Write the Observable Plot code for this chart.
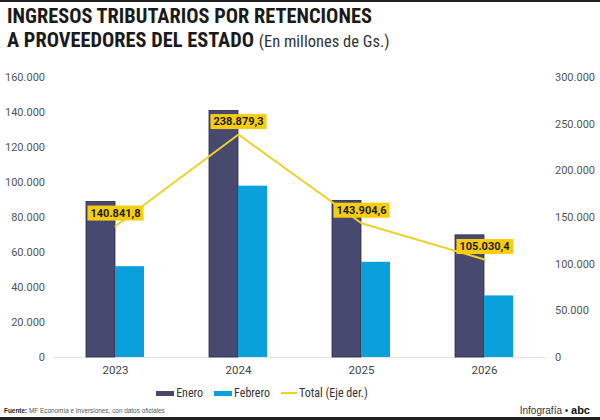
<!DOCTYPE html>
<html>
<head>
<meta charset="utf-8">
<script src="https://cdn.jsdelivr.net/npm/d3@7"></script>
<script src="https://cdn.jsdelivr.net/npm/@observablehq/plot@0.6"></script>
<style>
  html, body { margin: 0; padding: 0; background: #fff; }
  body { width: 600px; height: 420px; position: relative; overflow: hidden; font-family: Roboto, "Noto Sans", sans-serif; }
  #topbar { position: absolute; left: 0; top: 0; width: 600px; height: 2px; background: #222; }
  #botbar { position: absolute; left: 0; top: 417px; width: 600px; height: 3px; background: #222; }
  .tl { position: absolute; left: 7px; white-space: nowrap; font-family: "Liberation Sans Narrow", "Roboto Condensed", "DejaVu Sans Condensed", sans-serif; font-weight: bold; font-size: 21px; line-height: 22px; height: 22px; color: #1a1a1a; transform: scaleX(0.97); transform-origin: left top; }
  #t1 { top: 5px; }
  #t2 { top: 29px; }
  .tl .sub { font-weight: normal; font-size: 17px; color: #333; }
  #chart { position: absolute; left: 0; top: 60px; }
  #legend { position: absolute; left: 0; top: 386px; width: 524px; display: flex; justify-content: center; align-items: center; gap: 11px; font-family: "Liberation Sans Narrow", "Roboto Condensed", sans-serif; font-size: 12px; color: #333; }
  #legend .it { display: flex; align-items: center; gap: 2px; }
  #legend .sw { width: 18px; height: 5px; display: inline-block; }
  #legend .ln { width: 16px; height: 2px; display: inline-block; background: #eed22a; }
  #footer { position: absolute; left: 4px; top: 406px; white-space: nowrap; font-family: "Liberation Sans Narrow", sans-serif; font-size: 8px; color: #555; transform: scaleX(0.8); transform-origin: left top; }
  #credit { position: absolute; right: 10px; top: 404px; font-family: "Liberation Sans Narrow", sans-serif; font-size: 10px; color: #333; }
</style>
</head>
<body>
<div id="topbar"></div>
<div class="tl" id="t1">INGRESOS TRIBUTARIOS POR RETENCIONES</div>
<div class="tl" id="t2">A PROVEEDORES DEL ESTADO <span class="sub">(En millones de Gs.)</span></div>
<div id="chart"></div>
<div id="legend">
  <span class="it"><span class="sw" style="background:#474a6e"></span>Enero</span>
  <span class="it"><span class="sw" style="background:#0aa0dc"></span>Febrero</span>
  <span class="it"><span class="ln"></span>Total (Eje der.)</span>
</div>
<div id="footer"><b style="color:#222">Fuente:</b> MF Economía e Inversiones, con datos oficiales</div>
<div id="credit">Infografía • <b style="font-size:11px;color:#111">abc</b></div>
<div id="botbar"></div>
<script>
const years = ["2023", "2024", "2025", "2026"];
const enero = [88900, 140900, 89500, 69800];
const febrero = [51900, 97900, 54400, 35200];
const total = [140841.8, 238879.3, 143904.6, 105030.4];
const leftTicks = [0, 20000, 40000, 60000, 80000, 100000, 120000, 140000, 160000];
const rightTicks = [0, 50000, 100000, 150000, 200000, 250000, 300000];

const loc = d3.formatLocale({decimal: ",", thousands: ".", grouping: [3], currency: ["", ""]});
const fmt0 = loc.format(",d");
const fmt1 = loc.format(",.1f");
const k = 160000 / 300000;

const data = years.map((y, i) => ({year: y, enero: enero[i], febrero: febrero[i], total: total[i]}));

const svg = Plot.plot({
  width: 600,
  height: 320,
  marginLeft: 53.5,
  marginRight: 54.5,
  marginTop: 17,
  marginBottom: 23,
  style: {fontFamily: "Roboto, sans-serif", background: "transparent"},
  x: {domain: years, paddingInner: 0.528, paddingOuter: 0.264},
  y: {domain: [0, 160000]},
  marks: [
    Plot.ruleY([0], {stroke: "#e4e4e4", strokeWidth: 1}),
    Plot.barY(data, {x: "year", y: "enero", fill: "#474a6e", stroke: "#2a2c44", strokeWidth: 0.8, insetRight: 29}),
    Plot.barY(data, {x: "year", y: "febrero", fill: "#0aa0dc", insetLeft: 29}),
    Plot.line(data, {x: "year", y: d => d.total * k, stroke: "#eed22a", strokeWidth: 2}),
    Plot.text(data, {x: "year", y: d => d.total * k, dy: -13, text: d => fmt1(d.total), fontSize: 11, fontWeight: "bold", fill: "#1e1e1e", className: "lbl"}),
    Plot.axisY(leftTicks, {anchor: "left", tickSize: 0, tickPadding: 9, tickFormat: fmt0, fontSize: 11, fill: "#555", label: null}),
    Plot.axisY(rightTicks, {anchor: "right", y: d => d * k, text: d => fmt0(d), tickSize: 0, tickPadding: 9, fontSize: 11, fill: "#555", label: null}),
    Plot.axisX({tickSize: 0, tickPadding: 8, fontSize: 11.5, fill: "#444", label: null})
  ]
});
document.getElementById("chart").append(svg);

const ns = "http://www.w3.org/2000/svg";
svg.querySelectorAll(".lbl text").forEach(t => {
  const b = t.getBBox();
  const r = document.createElementNS(ns, "rect");
  r.setAttribute("x", b.x - 3);
  r.setAttribute("y", b.y - 1);
  r.setAttribute("width", b.width + 6);
  r.setAttribute("height", b.height + 2);
  r.setAttribute("fill", "#f6cd0f");
  const tr = t.getAttribute("transform");
  if (tr) r.setAttribute("transform", tr);
  t.parentNode.insertBefore(r, t);
});
</script>
</body>
</html>
